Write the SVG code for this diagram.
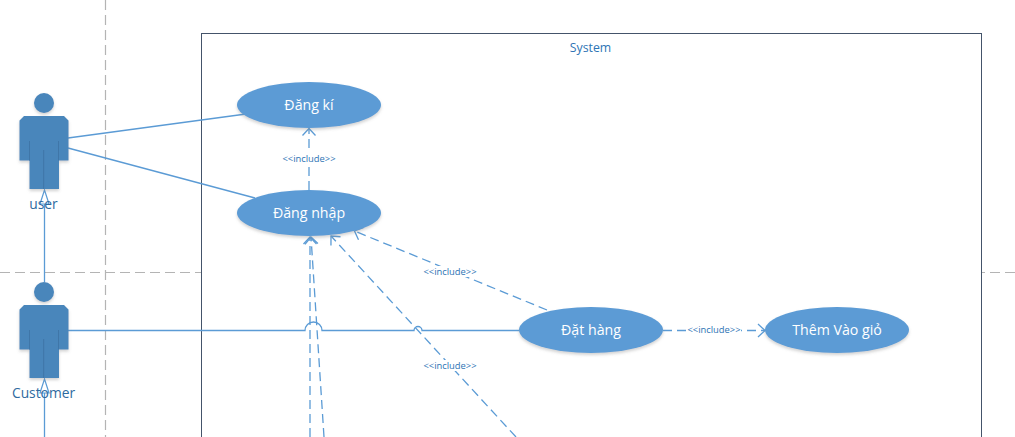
<svg xmlns="http://www.w3.org/2000/svg" width="1015" height="437" viewBox="0 0 1015 437">
<style>
text{font-family:"Open Sans","Noto Sans","Liberation Sans",sans-serif;text-anchor:middle}
.lane{fill:none;stroke:#b4b4b4;stroke-width:1.2;stroke-dasharray:10 5}
.assoc{fill:none;stroke:#5b9bd5;stroke-width:1.3}
.dash{fill:none;stroke:#5b9bd5;stroke-width:1.3;stroke-dasharray:9 5;marker-end:url(#open)}
.gen{fill:none;stroke:#5b9bd5;stroke-width:1.3;marker-end:url(#hollow)}
.uc{fill:#5b9bd5;filter:url(#sh)}
.uct{fill:#fff;font-size:14.2px}
.act{fill:#4a86bb;filter:url(#sh)}
.actl{fill:none;stroke:#3f76a8;stroke-width:1}
.actt{fill:#2e6aa0;font-size:13.8px}
.lab{fill:#2e74b5;font-size:9.4px}
.bg{fill:#fff}
</style>
<defs>
<filter id="sh" x="-15%" y="-15%" width="130%" height="140%"><feDropShadow dx="0" dy="2" stdDeviation="1.6" flood-color="#7f7f7f" flood-opacity="0.35"/></filter>
<marker id="open" markerUnits="userSpaceOnUse" markerWidth="14" markerHeight="16" refX="8" refY="8" orient="auto"><path d="M1 1.500L8 8L1 14.500" fill="none" stroke="#5b9bd5" stroke-width="1.3"/></marker>
<marker id="hollow" markerUnits="userSpaceOnUse" markerWidth="18" markerHeight="14" refX="1" refY="7" orient="auto"><path d="M1 2.500L15 7L1 11.500Z" fill="none" stroke="#5b9bd5" stroke-width="1.2"/></marker>
<g id="figure"><circle cx="44" cy="103" r="10"/><path d="M24 116H64L68.500 120.500V160.500H59V189H29.500V160.500H19.500V120.500Z"/></g>
</defs>
<rect width="1015" height="437" fill="#fff"/>
<g id="lanes">
<path class="lane" d="M105.500 0V437"/>
<path class="lane" d="M0 272.500H1015"/>
</g>
<g id="system">
<rect x="201.500" y="33.500" width="780" height="420" fill="#fff" stroke="#44546a" stroke-width="1"/>
<text x="590.500" y="52" style="fill:#2e74b5;font-size:12.300px">System</text>
</g>
<g id="connectors">
<path class="assoc" d="M68 138L246 114"/>
<path class="assoc" d="M68 148L255 198"/>
<path class="assoc" d="M68 330.500H305A8.500 8.500 0 0 1 322 330.500H414A4 4 0 0 1 422 330.500H519"/>
<path class="gen" d="M44.500 282V204"/>
<path class="gen" d="M44.500 437V393"/>
<path class="dash" d="M309 190V128.500"/>
<path class="dash" d="M310 437V237"/>
<path class="dash" d="M324 437L311 237"/>
<path class="dash" d="M516 437L331 236"/>
<path class="dash" d="M547 310L354.500 231"/>
<path class="dash" d="M663 330.500H765"/>
<rect class="bg" x="282" y="153" width="54" height="11"/><text class="lab" x="309" y="162">&lt;&lt;include&gt;&gt;</text>
<rect class="bg" x="423" y="266" width="54" height="11"/><text class="lab" x="450" y="275">&lt;&lt;include&gt;&gt;</text>
<rect class="bg" x="423" y="360" width="54" height="11"/><text class="lab" x="450" y="369">&lt;&lt;include&gt;&gt;</text>
<rect class="bg" x="687" y="324" width="54" height="11"/><text class="lab" x="714" y="333">&lt;&lt;include&gt;&gt;</text>
</g>
<g id="actor-user">
<use href="#figure" class="act"/>
<path class="actl" d="M29.500 141V160.500M58.500 141V160.500M43.700 150V189"/>
<text class="actt" x="43.500" y="209">user</text>
</g>
<g id="actor-customer">
<use href="#figure" class="act" y="189"/>
<path class="actl" d="M29.500 330V349.500M58.500 330V349.500M43.700 339V378"/>
<text class="actt" x="43.500" y="398">Customer</text>
</g>
<g id="uc-dangki"><ellipse class="uc" cx="309" cy="105" rx="72" ry="23"/><text class="uct" x="309" y="110">Đăng kí</text></g>
<g id="uc-dangnhap"><ellipse class="uc" cx="309" cy="213" rx="72" ry="23"/><text class="uct" x="309" y="218">Đăng nhập</text></g>
<g id="uc-dathang"><ellipse class="uc" cx="591" cy="330" rx="72" ry="23"/><text class="uct" x="591" y="335">Đặt hàng</text></g>
<g id="uc-themvaogio"><ellipse class="uc" cx="837" cy="330" rx="72" ry="23"/><text class="uct" x="837" y="335">Thêm Vào giỏ</text></g>
</svg>
